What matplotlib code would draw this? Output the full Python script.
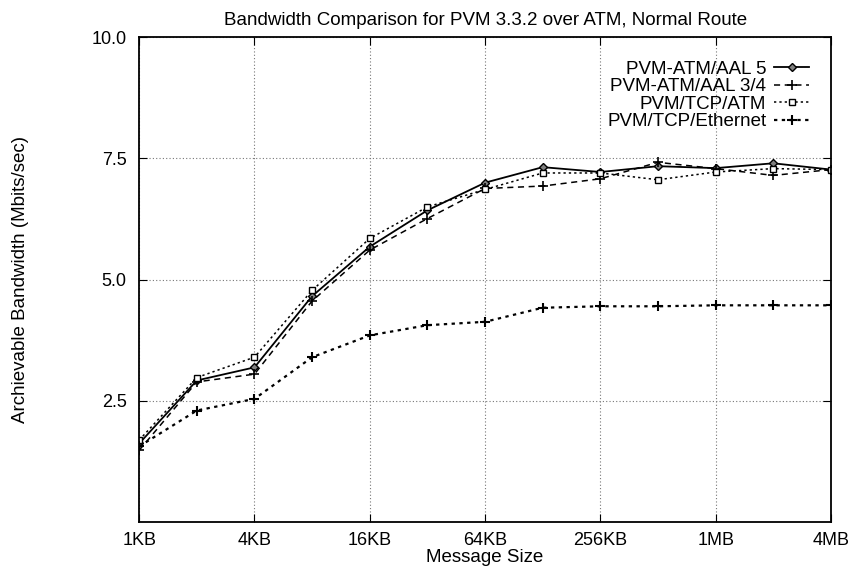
import matplotlib
matplotlib.use("Agg")
import matplotlib.pyplot as plt

plt.rcParams['font.family'] = ['Liberation Sans', 'DejaVu Sans']

# message sizes in KB (1KB .. 4MB)
sizes_kb = [1, 2, 4, 8, 16, 32, 64, 128, 256, 512, 1024, 2048, 4096]
tick_pos = [1, 4, 16, 64, 256, 1024, 4096]
tick_labels = ['1KB', '4KB', '16KB', '64KB', '256KB', '1MB', '4MB']

aal5 = [1.62, 2.92, 3.19, 4.66, 5.68, 6.43, 7.00, 7.32, 7.22, 7.34, 7.30, 7.40, 7.27]
aal34 = [1.48, 2.89, 3.05, 4.56, 5.61, 6.26, 6.88, 6.93, 7.08, 7.42, 7.29, 7.15, 7.27]
tcp_atm = [1.69, 2.98, 3.40, 4.78, 5.85, 6.50, 6.86, 7.20, 7.20, 7.06, 7.22, 7.29, 7.27]
tcp_eth = [1.56, 2.30, 2.54, 3.40, 3.85, 4.06, 4.13, 4.42, 4.45, 4.45, 4.47, 4.47, 4.47]

fig = plt.figure(figsize=(8.54, 5.73), dpi=100)
ax = fig.add_axes([0.163, 0.089, 0.81, 0.846])

ax.plot(sizes_kb, aal5, color='black', linestyle='-', linewidth=1.3,
        marker='D', markersize=4, markerfacecolor='gray', markeredgecolor='black',
        label='PVM-ATM/AAL 5')
ax.plot(sizes_kb, aal34, color='black', linestyle=(0, (4, 3)), linewidth=1.1,
        marker='+', markersize=7, markeredgewidth=1.2, label='PVM-ATM/AAL 3/4')
ax.plot(sizes_kb, tcp_atm, color='black', linestyle=(0, (1.5, 2)), linewidth=1.1,
        marker='s', markersize=5, markerfacecolor='white', markeredgecolor='black',
        label='PVM/TCP/ATM')
ax.plot(sizes_kb, tcp_eth, color='black', linestyle=(0, (1.5, 2)), linewidth=1.6,
        marker='+', markersize=7, markeredgewidth=1.5, label='PVM/TCP/Ethernet')

ax.set_xscale('log', base=2)
ax.set_xlim(1, 4096)
ax.set_ylim(0, 10)
ax.set_xticks(tick_pos)
ax.set_xticklabels(tick_labels)
ax.minorticks_off()
ax.set_yticks([2.5, 5.0, 7.5, 10.0])
ax.set_yticklabels(['2.5', '5.0', '7.5', '10.0'])
ax.tick_params(direction='in', length=6, top=True, right=True, labelsize=13)
ax.tick_params(axis='x', pad=7)
ax.tick_params(axis='y', pad=9)
ax.grid(True, color='#777777', linestyle=(0, (1, 2)), linewidth=0.8)

for s in ax.spines.values():
    s.set_linewidth(1.3)

ax.set_title('Bandwidth Comparison for PVM 3.3.2 over ATM, Normal Route', fontsize=13.5, pad=9)
ax.set_xlabel('Message Size', fontsize=13.5, labelpad=0)
ax.set_ylabel('Archievable Bandwidth (Mbits/sec)', fontsize=13.5)
ax.yaxis.set_label_coords(-0.16, 0.5)

ax.legend(loc='upper right', bbox_to_anchor=(0.977, 0.963), frameon=False,
          markerfirst=False, fontsize=13.5, handlelength=1.9, labelspacing=0.02,
          borderaxespad=0, borderpad=0.3, handletextpad=0.4)

fig.savefig('out.png', dpi=100, facecolor='white')
